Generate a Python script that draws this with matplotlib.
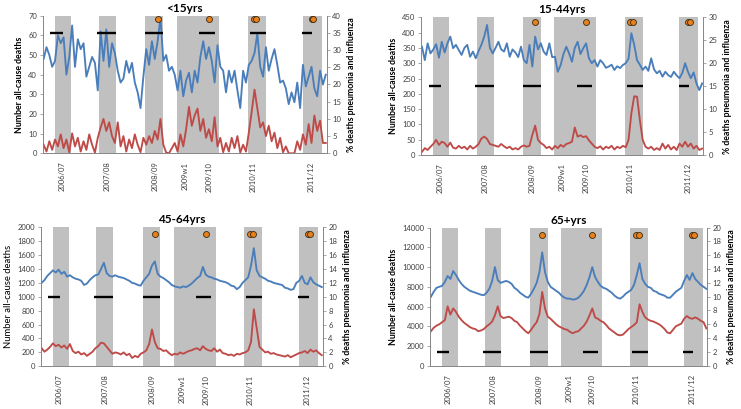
import matplotlib.pyplot as plt
import numpy as np
from matplotlib.ticker import MultipleLocator
from matplotlib import rc

rc('font', **{'family': 'sans-serif', 'sans-serif': ['Lato', 'DejaVu Sans'], 'size': 6})

colors = {
    'deaths': '#4A7EBB',
    'pni': '#BE4B48',
    'band': '#C0C0C0',
    'axis': '#868686',
    'dot': '#E8801C',
}

# category axis: one entry every 3 weeks
weeks = np.arange(100) * 3

tick_pos = [19, 67, 117, 149, 174, 221, 282]
tick_labels = ['2006/07', '2007/08', '2008/09', '2009w1', '2009/10', '2010/11', '2011/12']

# grey flu seasons (start, end week)
season_start = [12, 58, 107, 140, 215, 273]
season_end = [29, 76, 126, 185, 234, 293]

# black bars (start, end week)
bar_start = [7, 56, 107, 164, 217, 272]
bar_end = [20, 76, 126, 180, 234, 283]

# orange dots
dot_weeks = [120, 174, 221, 224, 282, 284]

# <15yrs
deaths_u15 = [48, 54, 50, 44, 47, 60, 56, 59, 40, 49, 65, 44, 58, 53, 56, 39, 44, 49, 46, 32,
              62, 47, 63, 44, 56, 51, 42, 36, 38, 47, 41, 46, 36, 31, 23, 39, 53, 45, 57, 48,
              57, 69, 47, 50, 42, 44, 40, 32, 42, 29, 37, 41, 31, 42, 36, 49, 57, 48, 54, 47,
              36, 55, 44, 42, 31, 42, 36, 42, 32, 23, 42, 36, 45, 47, 51, 61, 44, 39, 54, 42,
              48, 53, 45, 36, 37, 33, 25, 31, 26, 36, 23, 45, 34, 39, 44, 33, 29, 42, 35, 40]
pni_u15 = [2.5, 0.5, 3.5, 1.0, 4.0, 2.0, 5.5, 1.5, 4.0, 0.3, 5.8, 2.0, 4.5, 0.5, 3.5, 1.0, 5.5, 2.5, 0.2, 4.5,
           7.5, 10.0, 6.5, 9.0, 5.0, 3.0, 9.0, 2.0, 5.0, 0.5, 4.0, 1.5, 5.5, 2.5, 0.3, 4.5, 2.5, 5.0, 3.0, 6.5,
           4.0, 10.0, 2.5, 0.2, 0.0, 1.5, 3.0, 0.5, 5.5, 2.0, 7.0, 13.5, 8.0, 11.0, 13.0, 6.5, 10.0, 4.5, 7.0, 3.5,
           10.5, 2.0, 4.5, 0.3, 3.0, 0.5, 4.5, 1.5, 5.0, 0.2, 2.5, 0.5, 6.0, 12.0, 18.5, 13.0, 7.5, 9.0, 5.0, 8.0,
           3.5, 6.0, 1.5, 4.5, 0.3, 2.0, 0.0, 0.0, 0.0, 3.5, 1.0, 5.5, 2.5, 8.5, 3.0, 11.0, 6.5, 9.5, 3.0, 3.0]

# 15-44yrs
deaths_15_44 = [354, 310, 365, 332, 345, 362, 318, 370, 335, 365, 387, 349, 360, 343, 327, 350, 360, 321, 338, 316,
                340, 360, 387, 425, 350, 332, 350, 370, 345, 338, 365, 321, 345, 335, 320, 354, 310, 300, 360, 289,
                387, 345, 365, 338, 327, 365, 320, 321, 272, 294, 330, 354, 332, 305, 350, 370, 330, 349, 365, 316,
                300, 310, 289, 310, 300, 285, 289, 295, 278, 290, 284, 294, 300, 315, 398, 360, 310, 295, 278, 289,
                275, 316, 280, 267, 275, 256, 272, 261, 255, 272, 260, 251, 268, 300, 272, 251, 270, 234, 212, 234]
pni_15_44 = [0.7, 1.5, 1.1, 1.8, 2.4, 3.3, 2.2, 2.9, 2.6, 1.8, 2.7, 1.6, 1.4, 2.0, 1.5, 1.8, 1.2, 2.0, 1.4, 1.8,
             2.4, 3.6, 4.0, 3.5, 2.4, 2.2, 2.0, 1.8, 2.4, 1.9, 1.5, 1.8, 1.2, 1.5, 1.2, 1.8, 2.1, 1.8, 2.0, 4.4,
             6.4, 3.3, 2.6, 2.2, 1.5, 1.8, 1.2, 2.0, 1.5, 2.2, 1.8, 2.4, 2.6, 2.9, 6.0, 4.0, 4.3, 3.9, 4.1, 3.2,
             2.5, 1.8, 1.5, 1.9, 1.2, 1.8, 1.5, 2.0, 1.2, 1.8, 1.5, 2.0, 1.7, 3.3, 9.1, 12.8, 12.7, 7.6, 3.3, 1.8,
             1.4, 1.8, 1.1, 1.5, 1.1, 2.5, 1.4, 2.2, 1.2, 1.8, 1.1, 2.5, 1.8, 2.9, 1.8, 2.5, 1.4, 2.0, 1.1, 1.4]

# 45-64yrs
deaths_45_64 = [1200, 1240, 1300, 1340, 1380, 1350, 1390, 1330, 1360, 1290, 1310, 1280, 1260, 1250, 1230, 1170, 1190, 1240, 1280, 1310,
                1320, 1400, 1490, 1340, 1300, 1290, 1310, 1290, 1280, 1270, 1250, 1230, 1200, 1190, 1170, 1160, 1230, 1280, 1330, 1450,
                1510, 1330, 1290, 1270, 1240, 1210, 1170, 1150, 1140, 1130, 1150, 1140, 1160, 1190, 1230, 1270, 1300, 1430, 1320, 1290,
                1280, 1260, 1250, 1230, 1220, 1210, 1190, 1160, 1150, 1110, 1140, 1200, 1240, 1280, 1450, 1700, 1380, 1300, 1280, 1260,
                1230, 1220, 1200, 1190, 1180, 1170, 1130, 1120, 1100, 1110, 1200, 1230, 1300, 1200, 1180, 1280, 1210, 1180, 1160, 1140]
pni_45_64 = [2.6, 2.1, 2.4, 2.8, 3.3, 2.9, 3.1, 2.7, 3.0, 2.5, 3.2, 2.2, 1.9, 2.1, 1.7, 1.9, 1.5, 1.8, 2.1, 2.6,
             2.9, 3.4, 3.3, 2.8, 2.3, 1.8, 2.0, 1.9, 1.7, 2.0, 1.6, 1.8, 1.2, 1.5, 1.3, 1.8, 2.0, 2.3, 3.2, 5.3,
             3.5, 2.6, 2.5, 2.2, 2.3, 1.9, 1.6, 1.8, 1.7, 2.0, 1.8, 2.0, 2.2, 2.3, 2.5, 2.6, 2.3, 2.9, 2.5, 2.3,
             2.2, 2.6, 2.1, 2.4, 1.9, 1.8, 1.6, 1.7, 1.5, 1.8, 1.7, 1.9, 2.0, 2.3, 3.5, 8.2, 5.5, 2.8, 2.4, 2.0,
             2.1, 1.8, 1.9, 1.7, 1.6, 1.5, 1.4, 1.6, 1.3, 1.5, 1.7, 1.9, 2.0, 2.2, 1.9, 2.4, 2.1, 2.3, 1.9, 1.6]

# 65+yrs
deaths_65 = [7000, 7500, 7900, 8000, 8100, 8500, 9100, 8800, 9600, 9200, 8700, 8300, 8000, 7800, 7600, 7500, 7400, 7300, 7200, 7150,
             7400, 7800, 8600, 10000, 8700, 8400, 8500, 8600, 8500, 8300, 7900, 7700, 7400, 7200, 7000, 6900, 7300, 7800, 8400, 9500,
             11500, 9500, 8500, 8000, 7800, 7600, 7400, 7100, 6900, 6800, 6800, 6700, 6750, 6900, 7200, 7600, 8200, 9000, 10000, 9000,
             8500, 8100, 7900, 7800, 7600, 7400, 7100, 6900, 6800, 7000, 7300, 7500, 7700, 8200, 9200, 10400, 8800, 8300, 8000, 7900,
             7600, 7500, 7300, 7200, 7100, 6900, 6900, 7200, 7500, 7700, 7900, 8600, 9200, 8700, 9400, 8800, 8500, 8200, 8000, 7800]
pni_65 = [5.0, 5.5, 5.8, 6.0, 6.3, 6.6, 8.6, 7.4, 8.3, 7.8, 7.1, 6.6, 6.2, 5.9, 5.6, 5.4, 5.3, 5.0, 5.1, 5.3,
          5.7, 6.0, 6.4, 7.3, 8.6, 7.2, 6.9, 7.0, 7.1, 6.9, 6.5, 6.3, 5.8, 5.4, 5.0, 4.7, 5.2, 5.8, 6.3, 7.5,
          10.7, 8.3, 7.1, 6.8, 6.4, 6.0, 5.7, 5.5, 5.3, 5.2, 4.9, 4.7, 4.9, 5.0, 5.4, 5.8, 6.4, 7.3, 8.3, 7.0,
          6.8, 6.5, 6.3, 5.9, 5.4, 5.1, 4.8, 4.5, 4.4, 4.5, 4.9, 5.3, 5.6, 5.9, 6.3, 8.9, 7.8, 7.0, 6.7, 6.5,
          6.4, 6.2, 6.0, 5.7, 5.3, 4.8, 4.7, 5.2, 5.7, 5.9, 6.1, 6.8, 7.2, 6.9, 6.8, 7.0, 6.8, 6.5, 6.3, 5.4]


def plotter(rect, title, deaths, pni, lmax, lstep, rmax, rstep, bar_y, lweight='bold'):
    ax = fig.add_axes(rect)
    ax2 = ax.twinx()

    for s, e in zip(season_start, season_end):
        ax.axvspan(s, e, color=colors['band'], lw=0, zorder=0)

    ax.plot(weeks, deaths, color=colors['deaths'], lw=1.35, zorder=2)
    ax2.plot(weeks, pni, color=colors['pni'], lw=1.35, zorder=2)

    for s, e in zip(bar_start, bar_end):
        ax2.plot([s, e], [bar_y, bar_y], color='black', lw=1.7, solid_capstyle='butt', zorder=3)
    ax2.plot(dot_weeks, [rmax - 1] * len(dot_weeks), 'o', ms=4.3, mfc=colors['dot'],
             mec='#3a2a10', mew=0.6, zorder=4)

    ax.set_xlim(-1, 298)
    ax.set_ylim(0, lmax)
    ax2.set_ylim(0, rmax)
    ax.yaxis.set_major_locator(MultipleLocator(lstep))
    ax2.yaxis.set_major_locator(MultipleLocator(rstep))
    ax.set_xticks(tick_pos, tick_labels, rotation=90)

    for a in (ax, ax2):
        a.spines['top'].set_visible(False)
        for sp in ('left', 'right', 'bottom'):
            a.spines[sp].set_color(colors['axis'])
            a.spines[sp].set_linewidth(0.6)
        a.tick_params(axis='y', length=2, width=0.5, color=colors['axis'], labelsize=5.5,
                      labelcolor='#404040', pad=2)
    ax.tick_params(axis='x', length=0, labelsize=5.5, labelcolor='#404040', pad=6)

    lsize = 6.3 if lweight == 'bold' else 6.8
    ax.set_ylabel('Number all-cause deaths', fontsize=lsize, fontweight=lweight, labelpad=3)
    ax2.set_ylabel('% deaths pneumonia and influenza', fontsize=6.3, fontweight='bold', labelpad=4)
    ax.set_title(title, fontsize=8.5, fontweight='bold', pad=3)


fig = plt.figure(figsize=(7.41, 4.09), dpi=100)

plotter([0.0576, 0.6252, 0.3833, 0.3364], '<15yrs', deaths_u15, pni_u15, 70, 10, 40, 5, 35)
plotter([0.5682, 0.6210, 0.3806, 0.3367], '15-44yrs', deaths_15_44, pni_15_44, 450, 50, 30, 5, 15)
plotter([0.0549, 0.1044, 0.3806, 0.3399], '45-64yrs', deaths_45_64, pni_45_64, 2000, 200, 20, 2, 10,
        lweight='normal')
plotter([0.5803, 0.1059, 0.3742, 0.3374], '65+yrs', deaths_65, pni_65, 14000, 2000, 20, 2, 2)

plt.savefig('out.png', dpi=100)
